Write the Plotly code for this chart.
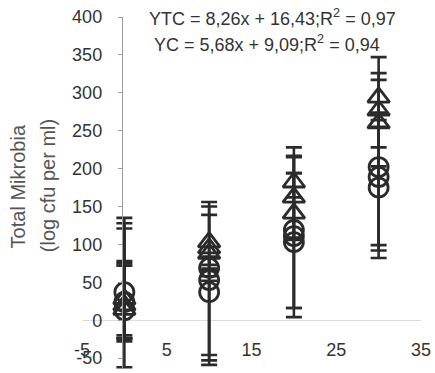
import plotly.graph_objects as go

# Sampling days
days = [0, 10, 20, 30]

# YTC replicates (log cfu per ml) with upper / lower error
ytc_rep1 = [28, 103, 182, 294]
ytc_rep2 = [20, 95, 162, 277]
ytc_rep3 = [14, 88, 141, 260]
ytc_err_up = [[107, 53, 46, 53], [108, 55, 53, 49], [61, 51, 53, 57]]
ytc_err_dn = [[48, 30, 20, 20], [44, 30, 53, 49], [42, 30, 35, 57]]

# YC replicates with upper / lower error
yc_rep1 = [37, 69, 119, 202]
yc_rep2 = [24, 53, 111, 189]
yc_rep3 = [13, 37, 103, 175]
yc_err_up = [[84, 15, 98, 70], [54, 15, 105, 75], [59, 15, 91, 80]]
yc_err_dn = [[99, 115, 103, 120], [48, 106, 107, 97], [37, 96, 87, 76]]

x_ticks = [-5, 5, 15, 25, 35]
y_ticks = [-50, 0, 50, 100, 150, 200, 250, 300, 350, 400]

eq_ytc = "YTC = 8,26x + 16,43;R<sup>2</sup> = 0,97"
eq_yc = "YC = 5,68x + 9,09;R<sup>2</sup> = 0,94"
y_title_1 = "Total Mikrobia"
y_title_2 = "(log cfu per ml)"

# page geometry (px)
W, H = 435, 373
L, R, T, B = 82, 423, 17, 369
X_MIN, X_MAX = -5, 35
Y_MAX = 400
PX_PER_Y = 0.758
Y_MIN = Y_MAX - (B - T) / PX_PER_Y

INK = "#2b2b2b"
FONT = "Liberation Sans, Arial, sans-serif"


def px_to_paper_x(px):
    return (px - L) / (R - L)


def px_to_paper_y(py):
    return (B - py) / (B - T)


fig = go.Figure()

series = [
    ("YTC", "triangle-up-open", 19, [ytc_rep1, ytc_rep2, ytc_rep3], ytc_err_up, ytc_err_dn),
    ("YC", "circle-open", 19, [yc_rep1, yc_rep2, yc_rep3], yc_err_up, yc_err_dn),
]

for name, symbol, size, reps, ups, dns in series:
    for rep, up, dn in zip(reps, ups, dns):
        fig.add_trace(go.Scatter(
            x=days, y=rep, mode="markers", name=name, showlegend=False,
            marker=dict(symbol=symbol, size=size, color=INK, line=dict(width=2.8, color=INK)),
            error_y=dict(type="data", symmetric=False, array=up, arrayminus=dn,
                         color=INK, thickness=2.6, width=8),
            cliponaxis=False,
        ))

fig.update_layout(
    width=W, height=H,
    margin=dict(l=L, r=W - R, t=T, b=H - B, pad=0),
    paper_bgcolor="white", plot_bgcolor="white",
    showlegend=False,
    font=dict(family=FONT, size=18, color="#333333"),
    xaxis=dict(
        range=[X_MIN, X_MAX], tickvals=x_ticks, ticktext=[str(v) for v in x_ticks],
        anchor="free", position=px_to_paper_y(337),
        showgrid=False, showline=False, ticks="", zeroline=False,
        tickfont=dict(size=18, color="#333333"),
    ),
    yaxis=dict(
        range=[Y_MIN, Y_MAX], tickvals=y_ticks, ticktext=[str(v) for v in y_ticks],
        anchor="free", position=px_to_paper_x(122),
        showgrid=False, showline=True, linecolor="#9a9a9a", linewidth=1,
        ticks="outside", ticklen=4, tickcolor="#9a9a9a", ticklabelstandoff=12,
        zeroline=True, zerolinecolor="#dddddd", zerolinewidth=1,
        tickfont=dict(size=18, color="#333333"),
    ),
)

annotations = [
    dict(text=eq_ytc, x=px_to_paper_x(147), y=px_to_paper_y(17), xanchor="left", yanchor="middle"),
    dict(text=eq_yc, x=px_to_paper_x(152), y=px_to_paper_y(44), xanchor="left", yanchor="middle"),
]
for a in annotations:
    fig.add_annotation(xref="paper", yref="paper", showarrow=False,
                       font=dict(family=FONT, size=18, color="#333333"), **a)

for text, px in [(y_title_1, 18), (y_title_2, 48)]:
    fig.add_annotation(xref="paper", yref="paper", showarrow=False, textangle=-90,
                       text=text, x=px_to_paper_x(px), y=px_to_paper_y(186),
                       xanchor="center", yanchor="middle",
                       font=dict(family=FONT, size=20, color="#555555"))

fig.write_html("out.html")
